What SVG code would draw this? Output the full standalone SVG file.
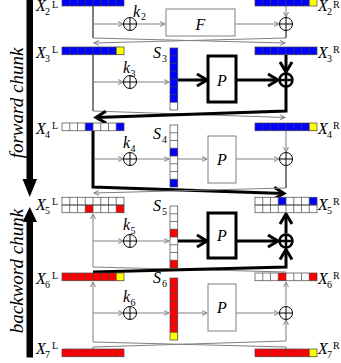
<svg xmlns="http://www.w3.org/2000/svg" xmlns:xlink="http://www.w3.org/1999/xlink" width="341" height="363" viewBox="0 0 341 363">
<style>
text{font-family:"Liberation Serif","DejaVu Serif",serif;fill:#000}
.lab{font-size:16px;font-style:italic}
.sm{font-size:10px}
.chunk{font-size:19px;font-style:italic}
.thin{stroke:#808080;stroke-width:1;fill:none}
.dk{stroke:#000;stroke-width:1;fill:none}
.thk{stroke:#000;stroke-width:3;fill:none}
.xor{fill:#fff;stroke:#000;stroke-width:1}
.xorb{fill:#fff;stroke:#000;stroke-width:2.5}
.box{fill:#fff;stroke:#808080;stroke-width:1}
.boxb{fill:#fff;stroke:#000;stroke-width:3}
.grid{fill:none;stroke:#444;stroke-width:0.7}
.B{fill:#0000ff}.R{fill:#ff0000}.Y{fill:#ffff00}.W{fill:#fff}
</style>
<defs>
<marker id="a" viewBox="-1 -1 8 8" markerWidth="8" markerHeight="8" refX="5" refY="2.5" markerUnits="userSpaceOnUse" orient="auto"><path d="M0,0L5,2.5L0,5" fill="none" stroke="#808080" stroke-width="1"/></marker>
<marker id="A" viewBox="-2 -2 15 16" markerWidth="15" markerHeight="16" refX="10" refY="6" markerUnits="userSpaceOnUse" orient="auto"><path d="M0,0L10,6L0,12" fill="none" stroke="#000" stroke-width="3"/></marker>
<g id="hg"><rect width="62" height="7.75"/><path d="M7.75,0v7.75M15.5,0v7.75M23.25,0v7.75M31,0v7.75M38.75,0v7.75M46.5,0v7.75M54.25,0v7.75"/></g>
<g id="vg"><rect width="7.75" height="62"/><path d="M0,7.75h7.75M0,15.5h7.75M0,23.25h7.75M0,31h7.75M0,38.75h7.75M0,46.5h7.75M0,54.25h7.75"/></g>
</defs>

<g id="forward-chunk">
<rect x="26.5" y="0" width="6.5" height="181"/>
<path d="M22.5,179L37,179L29.75,197Z"/>
<text class="chunk" transform="translate(23,103) rotate(-90)" text-anchor="middle">forward chunk</text>
</g>
<g id="backward-chunk">
<rect x="26.5" y="220" width="6.5" height="137.5"/>
<path d="M22.5,222L37,222L29.75,207Z"/>
<text class="chunk" transform="translate(23,271) rotate(-90)" text-anchor="middle">backword chunk</text>
</g>

<g id="connectors">
<path class="dk" d="M93,6V38"/>
<path class="thin" d="M93,24H123" marker-end="url(#a)"/>
<path class="thin" d="M136.5,24H165" marker-end="url(#a)"/>
<path class="thin" d="M235,24H279" marker-end="url(#a)"/>
<path class="thin" d="M286,6V17" marker-end="url(#a)"/>
<path class="dk" d="M286,30.5V38"/>
<path class="thin" d="M93,38L285,43" marker-end="url(#a)"/>
<path class="thin" d="M286,38L94,43" marker-end="url(#a)"/>
<path class="dk" d="M93,54.75V111"/>
<path class="thin" d="M93,82H123" marker-end="url(#a)"/>
<path class="thin" d="M136.5,82H169" marker-end="url(#a)"/>
<path class="thk" d="M178,80H207" marker-end="url(#A)"/>
<path class="thk" d="M236,80H278" marker-end="url(#A)"/>
<path class="thk" d="M286,55V72" marker-end="url(#A)"/>
<path class="thin" d="M93,111L285,117.5" marker-end="url(#a)"/>
<path class="thk" d="M286,87V111L96,117.5" marker-end="url(#A)"/>
<path class="thk" d="M93,130.75V187L284,193.5" marker-end="url(#A)"/>
<path class="thin" d="M95,159H123" marker-end="url(#a)"/>
<path class="thin" d="M136.5,159H169" marker-end="url(#a)"/>
<path class="thin" d="M178,159H207" marker-end="url(#a)"/>
<path class="thin" d="M236,159H279" marker-end="url(#a)"/>
<path class="thin" d="M286,131V152" marker-end="url(#a)"/>
<path class="dk" d="M286,165.5V188"/>
<path class="thin" d="M286,188L94,193" marker-end="url(#a)"/>
<path class="thin" d="M286,272L93,267V214" marker-end="url(#a)"/>
<path class="thin" d="M93,241H123" marker-end="url(#a)"/>
<path class="thin" d="M136.5,241H169" marker-end="url(#a)"/>
<path class="thk" d="M178,241H207" marker-end="url(#A)"/>
<path class="thk" d="M236,241H278" marker-end="url(#A)"/>
<path class="thk" d="M286,233.5V214" marker-end="url(#A)"/>
<path class="thk" d="M93,272L286,267V249.5" marker-end="url(#A)"/>
<path class="thin" d="M93,342V282" marker-end="url(#a)"/>
<path class="thin" d="M93,313H123" marker-end="url(#a)"/>
<path class="thin" d="M136.5,313H169" marker-end="url(#a)"/>
<path class="thin" d="M178,313H207" marker-end="url(#a)"/>
<path class="thin" d="M236,313H279" marker-end="url(#a)"/>
<path class="thin" d="M286,305.5V282" marker-end="url(#a)"/>
<path class="thin" d="M286,341V320" marker-end="url(#a)"/>
<path class="thin" d="M93,349V347L286,341"/>
<path class="thin" d="M286,349V347L93,342"/>
</g>

<g id="X2L"><rect class="B" x="62" y="-1.75" width="62" height="7.75"/><use href="#hg" class="grid" x="62" y="-1.75"/>
<text class="lab" x="36" y="11">X</text><text class="sm" x="45" y="14.5">2</text><text class="sm" x="52" y="7.5">L</text></g>
<g id="X3L"><rect class="B" x="62" y="47" width="62" height="7.75"/><rect class="Y" x="116.25" y="47" width="7.75" height="7.75"/><use href="#hg" class="grid" x="62" y="47"/>
<text class="lab" x="36" y="58">X</text><text class="sm" x="45" y="62">3</text><text class="sm" x="52" y="53">L</text></g>
<g id="X4L"><rect class="W" x="62" y="123" width="62" height="7.75"/><rect class="B" x="85.25" y="123" width="7.75" height="7.75"/><rect class="B" x="116.25" y="123" width="7.75" height="7.75"/><use href="#hg" class="grid" x="62" y="123"/>
<text class="lab" x="36" y="134">X</text><text class="sm" x="45" y="138">4</text><text class="sm" x="52" y="129">L</text></g>
<g id="X5L"><rect class="W" x="62" y="197.25" width="62" height="15.5"/><rect class="R" x="85.25" y="205" width="7.75" height="7.75"/><rect class="R" x="116.25" y="205" width="7.75" height="7.75"/><use href="#hg" class="grid" x="62" y="197.25"/><use href="#hg" class="grid" x="62" y="205"/>
<text class="lab" x="36" y="210">X</text><text class="sm" x="45" y="214">5</text><text class="sm" x="52" y="205">L</text></g>
<g id="X6L"><rect class="R" x="62" y="273" width="62" height="7.75"/><rect class="Y" x="116.25" y="273" width="7.75" height="7.75"/><use href="#hg" class="grid" x="62" y="273"/>
<text class="lab" x="36" y="284">X</text><text class="sm" x="45" y="288">6</text><text class="sm" x="52" y="279">L</text></g>
<g id="X7L"><rect class="R" x="62" y="349" width="62" height="7.75"/><use href="#hg" class="grid" x="62" y="349"/>
<text class="lab" x="36" y="354">X</text><text class="sm" x="45" y="358">7</text><text class="sm" x="52" y="349">L</text></g>

<g id="X2R"><rect class="B" x="255" y="-1.75" width="62" height="7.75"/><rect class="Y" x="309.25" y="-1.75" width="7.75" height="7.75"/><use href="#hg" class="grid" x="255" y="-1.75"/>
<text class="lab" x="318" y="11">X</text><text class="sm" x="327" y="14.5">2</text><text class="sm" x="333" y="7.5">R</text></g>
<g id="X3R"><rect class="B" x="255" y="47" width="62" height="7.75"/><use href="#hg" class="grid" x="255" y="47"/>
<text class="lab" x="318" y="58">X</text><text class="sm" x="327" y="62">3</text><text class="sm" x="333" y="53">R</text></g>
<g id="X4R"><rect class="B" x="255" y="123" width="62" height="7.75"/><rect class="Y" x="309.25" y="123" width="7.75" height="7.75"/><use href="#hg" class="grid" x="255" y="123"/>
<text class="lab" x="318" y="134">X</text><text class="sm" x="327" y="138">4</text><text class="sm" x="333" y="129">R</text></g>
<g id="X5R"><rect class="W" x="255" y="197.25" width="62" height="15.5"/><rect class="B" x="278.25" y="197.25" width="7.75" height="7.75"/><rect class="B" x="309.25" y="197.25" width="7.75" height="7.75"/><use href="#hg" class="grid" x="255" y="197.25"/><use href="#hg" class="grid" x="255" y="205"/>
<text class="lab" x="318" y="210">X</text><text class="sm" x="327" y="214">5</text><text class="sm" x="333" y="205">R</text></g>
<g id="X6R"><rect class="W" x="255" y="273" width="62" height="7.75"/><rect class="R" x="278.25" y="273" width="7.75" height="7.75"/><rect class="R" x="309.25" y="273" width="7.75" height="7.75"/><use href="#hg" class="grid" x="255" y="273"/>
<text class="lab" x="318" y="284">X</text><text class="sm" x="327" y="288">6</text><text class="sm" x="333" y="279">R</text></g>
<g id="X7R"><rect class="R" x="255" y="349" width="62" height="7.75"/><rect class="Y" x="309.25" y="349" width="7.75" height="7.75"/><use href="#hg" class="grid" x="255" y="349"/>
<text class="lab" x="318" y="354">X</text><text class="sm" x="327" y="358">7</text><text class="sm" x="333" y="349">R</text></g>

<g id="S3"><rect class="B" x="170" y="48" width="7.75" height="62"/><rect class="W" x="170" y="102.25" width="7.75" height="7.75"/><use href="#vg" class="grid" x="170" y="48"/>
<text class="lab" x="153" y="58">S</text><text class="sm" x="162" y="62">3</text></g>
<g id="S4"><rect class="W" x="170" y="125" width="7.75" height="62"/><rect class="B" x="170" y="148.25" width="7.75" height="7.75"/><rect class="B" x="170" y="179.25" width="7.75" height="7.75"/><use href="#vg" class="grid" x="170" y="125"/>
<text class="lab" x="153" y="139">S</text><text class="sm" x="162" y="143">4</text></g>
<g id="S5"><rect class="W" x="170" y="206" width="7.75" height="62"/><rect class="R" x="170" y="229.25" width="7.75" height="7.75"/><rect class="R" x="170" y="260.25" width="7.75" height="7.75"/><use href="#vg" class="grid" x="170" y="206"/>
<text class="lab" x="153" y="211">S</text><text class="sm" x="162" y="215">5</text></g>
<g id="S6"><rect class="R" x="170" y="278" width="7.75" height="62"/><rect class="Y" x="170" y="332.25" width="7.75" height="7.75"/><use href="#vg" class="grid" x="170" y="278"/>
<text class="lab" x="153" y="283">S</text><text class="sm" x="162" y="287">6</text></g>

<g id="xk2"><circle class="xor" cx="130" cy="24" r="6.5"/><path class="dk" d="M123.5,24h13M130,17.5v13"/><text class="lab" x="133" y="17">k</text><text class="sm" x="141" y="20">2</text></g>
<g id="xk3"><circle class="xor" cx="130" cy="82" r="6.5"/><path class="dk" d="M123.5,82h13M130,75.5v13"/><text class="lab" x="123" y="73">k</text><text class="sm" x="130.5" y="77">3</text></g>
<g id="xk4"><circle class="xor" cx="130" cy="159" r="6.5"/><path class="dk" d="M123.5,159h13M130,152.5v13"/><text class="lab" x="123" y="148">k</text><text class="sm" x="130.5" y="152">4</text></g>
<g id="xk5"><circle class="xor" cx="130" cy="241" r="6.5"/><path class="dk" d="M123.5,241h13M130,234.5v13"/><text class="lab" x="123" y="230">k</text><text class="sm" x="130.5" y="234">5</text></g>
<g id="xk6"><circle class="xor" cx="130" cy="313" r="6.5"/><path class="dk" d="M123.5,313h13M130,306.5v13"/><text class="lab" x="123" y="302">k</text><text class="sm" x="130.5" y="306">6</text></g>

<g id="F2"><rect class="box" x="166" y="9" width="69" height="27"/><text class="lab" x="200.5" y="29.5" text-anchor="middle">F</text></g>
<g id="P3"><rect class="boxb" x="208" y="56" width="28" height="46"/><text class="lab" x="222" y="85.5" text-anchor="middle">P</text></g>
<g id="P4"><rect class="box" x="208" y="136" width="28" height="47"/><text class="lab" x="222" y="165" text-anchor="middle">P</text></g>
<g id="P5"><rect class="boxb" x="208" y="213" width="28" height="45"/><text class="lab" x="222" y="241" text-anchor="middle">P</text></g>
<g id="P6"><rect class="box" x="208" y="284" width="28" height="47"/><text class="lab" x="222" y="313" text-anchor="middle">P</text></g>

<g id="xr2"><circle class="xor" cx="286" cy="24" r="6.5"/><path class="dk" d="M279.5,24h13M286,17.5v13"/></g>
<g id="xr3"><circle class="xorb" cx="286" cy="80" r="6.5"/><path class="thk" style="stroke-width:2.5" d="M279.5,80h13M286,73.5v13"/></g>
<g id="xr4"><circle class="xor" cx="286" cy="159" r="6.5"/><path class="dk" d="M279.5,159h13M286,152.5v13"/></g>
<g id="xr5"><circle class="xorb" cx="286" cy="241" r="6.5"/><path class="thk" style="stroke-width:2.5" d="M279.5,241h13M286,234.5v13"/></g>
<g id="xr6"><circle class="xor" cx="286" cy="313" r="6.5"/><path class="dk" d="M279.5,313h13M286,306.5v13"/></g>
</svg>
